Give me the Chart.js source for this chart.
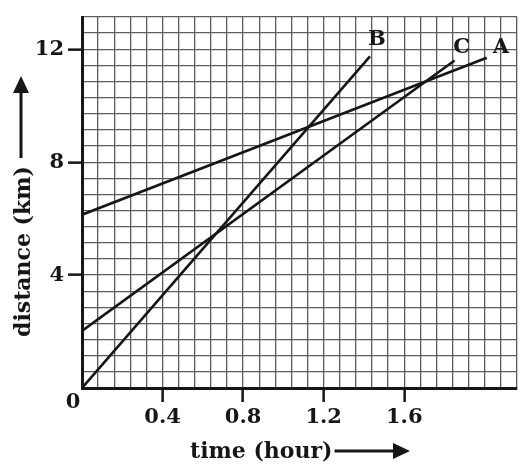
<!DOCTYPE html>
<html>
<head>
<meta charset="utf-8">
<script src="https://cdn.jsdelivr.net/npm/chart.js@4.4.1/dist/chart.umd.min.js"></script>
<style>
    body { margin: 0; background: #fff; }
    canvas { display: block; }
</style>
</head>
<body>
<canvas id="distChart" width="531" height="473"></canvas>
<script>
// Data: each car's line from start to end
const seriesNames = ["A", "B", "C"];
const timeA = [0, 2.01];
const distA = [6.14, 11.7];
const timeB = [0, 1.43];
const distB = [0, 11.75];
const timeC = [0, 1.85];
const distC = [2.02, 11.6];

// Axis ticks / grid
const xTickLabels = [0.4, 0.8, 1.2, 1.6];
const yTickLabels = [4, 8, 12];
const xGridStep = 0.08;
const yGridStep = 4 / 7;
const xGridCount = 27;
const yGridCount = 23;

const FONT = '"DejaVu Serif", "Liberation Serif", serif';
const INK = "#161616";

function gridValues(step, count) {
    const vals = [];
    for (let k = 0; k <= count; k++) vals.push(k * step);
    return vals;
}

function isLabel(list, v) {
    return list.some(l => Math.abs(l - v) < 1e-6);
}

function toPoints(xs, ys) {
    return xs.map((x, i) => ({ x: x, y: ys[i] }));
}

const lineStyle = {
    borderColor: INK,
    borderWidth: 2.6,
    pointRadius: 0,
    fill: false,
    tension: 0
};

/**
 * Line names, origin "0", axis titles and arrows
 */
const annotations = {
    id: "annotations",
    afterDatasetsDraw(chart) {
        const ctx = chart.ctx;
        const area = chart.chartArea;
        ctx.save();
        ctx.fillStyle = INK;
        ctx.strokeStyle = INK;

        // series names at the end of each line
        const offsets = { A: [14, -10], B: [7, -17], C: [7, -13] };
        ctx.font = "bold 21px " + FONT;
        ctx.textAlign = "center";
        ctx.textBaseline = "middle";
        chart.data.datasets.forEach((ds, i) => {
            const pts = chart.getDatasetMeta(i).data;
            const last = pts[pts.length - 1];
            const off = offsets[ds.label];
            ctx.fillText(ds.label, last.x + off[0], last.y + off[1]);
        });

        // origin label
        ctx.font = "bold 21px " + FONT;
        ctx.fillText("0", area.left - 9, area.bottom + 15);

        // x title + arrow
        ctx.font = "bold 22px " + FONT;
        ctx.textAlign = "left";
        ctx.textBaseline = "alphabetic";
        const xt = "time (hour)";
        const xtLeft = 190;
        const xtBase = 458;
        ctx.fillText(xt, xtLeft, xtBase);
        const xtEnd = xtLeft + ctx.measureText(xt).width;
        const ay = 451;
        ctx.lineWidth = 3;
        ctx.beginPath();
        ctx.moveTo(xtEnd + 2, ay);
        ctx.lineTo(396, ay);
        ctx.stroke();
        ctx.beginPath();
        ctx.moveTo(410, ay);
        ctx.lineTo(393, ay - 8);
        ctx.lineTo(393, ay + 8);
        ctx.closePath();
        ctx.fill();

        // y title + arrow (rotated)
        ctx.translate(30, 337);
        ctx.rotate(-Math.PI / 2);
        ctx.fillText("distance (km)", 0, 0);
        const ytEnd = ctx.measureText("distance (km)").width;
        ctx.restore();

        ctx.save();
        ctx.fillStyle = INK;
        ctx.strokeStyle = INK;
        ctx.lineWidth = 3;
        const ax = 21;
        ctx.beginPath();
        ctx.moveTo(ax, 337 - ytEnd - 8);
        ctx.lineTo(ax, 90);
        ctx.stroke();
        ctx.beginPath();
        ctx.moveTo(ax, 76);
        ctx.lineTo(ax - 8, 93);
        ctx.lineTo(ax + 8, 93);
        ctx.closePath();
        ctx.fill();
        ctx.restore();
    }
};

new Chart(document.getElementById("distChart").getContext("2d"), {
    type: "line",
    data: {
        datasets: [
            Object.assign({ label: seriesNames[0], data: toPoints(timeA, distA) }, lineStyle),
            Object.assign({ label: seriesNames[1], data: toPoints(timeB, distB) }, lineStyle),
            Object.assign({ label: seriesNames[2], data: toPoints(timeC, distC) }, lineStyle)
        ]
    },
    options: {
        responsive: false,
        animation: false,
        devicePixelRatio: 1,
        layout: { padding: { top: 17, right: 14, left: 0, bottom: 0 } },
        plugins: { legend: { display: false }, tooltip: { enabled: false } },
        scales: {
            x: {
                type: "linear",
                min: 0,
                max: xGridStep * xGridCount,
                afterBuildTicks: scale => {
                    scale.ticks = gridValues(xGridStep, xGridCount).map(v => ({ value: v }));
                },
                afterFit: scale => { scale.height = 85; },
                grid: {
                    color: "#5c5c5c",
                    lineWidth: 1.3,
                    drawTicks: true,
                    tickLength: 14,
                    tickWidth: 2.5,
                    tickColor: ctx => isLabel(xTickLabels, ctx.tick.value) ? INK : "rgba(0,0,0,0)"
                },
                border: { display: true, color: INK, width: 3 },
                ticks: {
                    autoSkip: false,
                    maxRotation: 0,
                    padding: 3,
                    color: INK,
                    font: { family: FONT, size: 21, weight: "bold" },
                    callback: v => isLabel(xTickLabels, v) ? String(Math.round(v * 10) / 10) : ""
                }
            },
            y: {
                type: "linear",
                min: 0,
                max: yGridStep * yGridCount,
                afterBuildTicks: scale => {
                    scale.ticks = gridValues(yGridStep, yGridCount).map(v => ({ value: v }));
                },
                afterFit: scale => { scale.width = 82; },
                grid: {
                    color: "#5c5c5c",
                    lineWidth: 1.3,
                    drawTicks: true,
                    tickLength: 14,
                    tickWidth: 2.5,
                    tickColor: ctx => isLabel(yTickLabels, ctx.tick.value) ? INK : "rgba(0,0,0,0)"
                },
                border: { display: true, color: INK, width: 3 },
                ticks: {
                    autoSkip: false,
                    padding: 4,
                    color: INK,
                    font: { family: FONT, size: 21, weight: "bold" },
                    callback: v => isLabel(yTickLabels, v) ? String(Math.round(v)) : ""
                }
            }
        }
    },
    plugins: [annotations]
});
</script>
</body>
</html>
